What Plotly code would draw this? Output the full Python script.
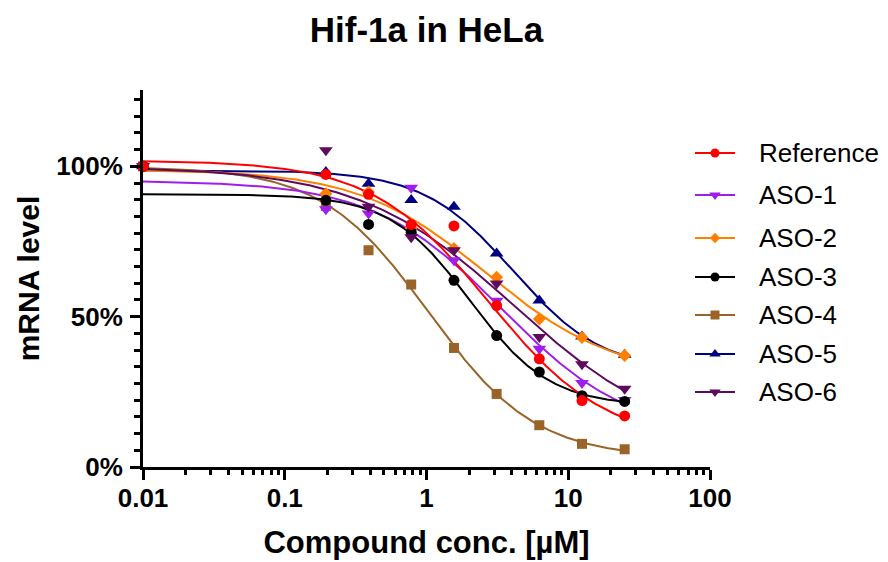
import numpy as np
import plotly.graph_objects as go

# ---- data ----
conc = [0.195, 0.39, 0.78, 1.5625, 3.125, 6.25, 12.5, 25.0]   # µM
ctrl_conc = 0.01          # untreated control, drawn at the left edge
ctrl_level = 100.0        # %

series_names = ["Reference", "ASO-1", "ASO-2", "ASO-3", "ASO-4", "ASO-5", "ASO-6"]
reference = [97.3, 90.7, 80.7, 80.2, 53.7, 36.0, 22.1, 17.0]
aso1 = [85.7, 84.3, 92.9, 68.8, 55.3, 39.3, 27.9, 22.3]
aso2 = [90.9, 91.5, 79.5, 72.7, 63.1, 49.2, 43.1, 37.1]
aso3 = [88.7, 80.7, 78.1, 62.1, 43.7, 31.6, 23.7, 21.8]
aso4 = [86.8, 72.1, 60.7, 39.6, 24.3, 13.9, 7.7, 5.9]
aso5 = [98.1, 94.2, 88.8, 86.6, 71.0, 55.4, 43.4, 37.3]
aso6 = [105.4, 86.6, 76.4, 72.1, 61.0, 43.2, 34.2, 26.0]
values = [reference, aso1, aso2, aso3, aso4, aso5, aso6]

# four-parameter logistic fit results (top %, bottom %, IC50 µM, Hill slope)
fit_top = [101.97, 95.25, 98.96, 90.77, 99.89, 98.70, 99.94]
fit_bottom = [7.83, 10.04, 29.78, 20.25, 2.98, 31.85, 7.15]
fit_ic50 = [2.754, 3.388, 2.661, 2.018, 1.035, 4.074, 4.169]
fit_hill = [1.05, 0.96, 0.96, 1.54, 1.15, 1.37, 0.79]

x_tickvals = [0.01, 0.1, 1, 10, 100]
x_ticktext = ["0.01", "0.1", "1", "10", "100"]
y_tickvals = [0, 50, 100]
y_ticktext = ["0%", "50%", "100%"]

# ---- styles ----
colors = ["#FF0000", "#A01EEB", "#FF8000", "#000000", "#9A6428", "#000080", "#5E0A5E"]
symbols = ["circle", "triangle-down", "diamond", "circle", "square", "triangle-up", "triangle-down"]
sizes = [11, 12, 10, 11, 10, 12, 12]
legend_sizes = [9, 10, 8, 9, 9, 10, 10]
font_family = "Liberation Sans, Arial, sans-serif"

W, H = 888, 562
L, R, T, B = 143, 0, 90, 95
plot_w = W - L - R
main_right = 710          # px where the x axis ends
legend_left = 690         # px where the legend area starts

fig = go.Figure()

xc = np.logspace(np.log10(ctrl_conc), np.log10(conc[-1]), 300)
draw_order = [5, 4, 2, 1, 3, 6, 0]
for k in draw_order:
    yc = fit_bottom[k] + (fit_top[k] - fit_bottom[k]) / (1 + (xc / fit_ic50[k]) ** fit_hill[k])
    fig.add_trace(go.Scatter(x=xc, y=yc, mode="lines", line=dict(color=colors[k], width=2),
                             showlegend=False, hoverinfo="skip"))
for k in draw_order:
    fig.add_trace(go.Scatter(x=[ctrl_conc] + conc, y=[ctrl_level] + values[k], mode="markers",
                             marker=dict(symbol=symbols[k], size=sizes[k], color=colors[k]),
                             showlegend=False, name=series_names[k], cliponaxis=False))

# ---- hand-built legend in its own pixel-scaled subplot ----
legend_y = [153, 195, 238, 277, 315, 354, 392]
for k, name in enumerate(series_names):
    fig.add_trace(go.Scatter(x=[695, 735], y=[legend_y[k]] * 2, mode="lines",
                             line=dict(color=colors[k], width=2), xaxis="x2", yaxis="y2",
                             showlegend=False, hoverinfo="skip"))
    fig.add_trace(go.Scatter(x=[715], y=[legend_y[k]], mode="markers",
                             marker=dict(symbol=symbols[k], size=legend_sizes[k], color=colors[k]),
                             xaxis="x2", yaxis="y2", showlegend=False, hoverinfo="skip"))
    fig.add_annotation(x=757, y=legend_y[k], xref="x2", yref="y2", text=name, showarrow=False,
                       xanchor="left", yanchor="middle",
                       font=dict(size=26, family=font_family, color="black"))

minor_x = [m * 10.0 ** e for e in range(-2, 2) for m in range(2, 10)]
minor_y = [i * 100 / 18 for i in range(23) if i % 9 != 0]

fig.update_layout(
    width=W, height=H,
    margin=dict(l=L, r=R, t=T, b=B),
    paper_bgcolor="white", plot_bgcolor="rgba(0,0,0,0)",
    font=dict(family=font_family, color="black"),
    showlegend=False,
    title=dict(text="<b>Hif-1a in HeLa</b>", x=(L + main_right) / 2 / W, xref="container",
               y=1 - 30 / H, yref="container", yanchor="middle", xanchor="center",
               font=dict(size=35, family=font_family, color="black")),
    xaxis=dict(type="log", range=[-2, 2], domain=[0, (main_right - L) / plot_w],
               showgrid=False, zeroline=False, automargin=False,
               showline=True, linewidth=3, linecolor="black",
               ticks="outside", ticklen=10, tickwidth=3, tickcolor="black",
               tickvals=x_tickvals, ticktext=x_ticktext, ticklabelstandoff=-4,
               tickfont=dict(size=26, family=font_family, color="black", weight="bold"),
               minor=dict(tickvals=minor_x, ticks="outside", ticklen=5, tickwidth=3, tickcolor="black"),
               title=dict(text="<b>Compound conc. [µM]</b>", font=dict(size=31, family=font_family),
                          standoff=20)),
    yaxis=dict(range=[0, 125.4], showgrid=False, zeroline=False, automargin=False,
               showline=True, linewidth=3, linecolor="black",
               ticks="outside", ticklen=10, tickwidth=3, tickcolor="black",
               tickvals=y_tickvals, ticktext=y_ticktext, ticklabelstandoff=2,
               tickfont=dict(size=26, family=font_family, color="black", weight="bold"),
               minor=dict(tickvals=minor_y, ticks="outside", ticklen=6, tickwidth=3, tickcolor="black"),
               title=dict(text="<b>mRNA level</b>", font=dict(size=30, family=font_family), standoff=8)),
    xaxis2=dict(domain=[(legend_left - L) / plot_w, 1], range=[legend_left, W], visible=False,
                fixedrange=True),
    yaxis2=dict(domain=[0, 1], range=[H - B, T], anchor="x2", visible=False, fixedrange=True),
)

fig.write_html("out.html", config={"displayModeBar": False},
               post_script="document.body.style.margin='0';document.body.style.overflow='hidden';")
